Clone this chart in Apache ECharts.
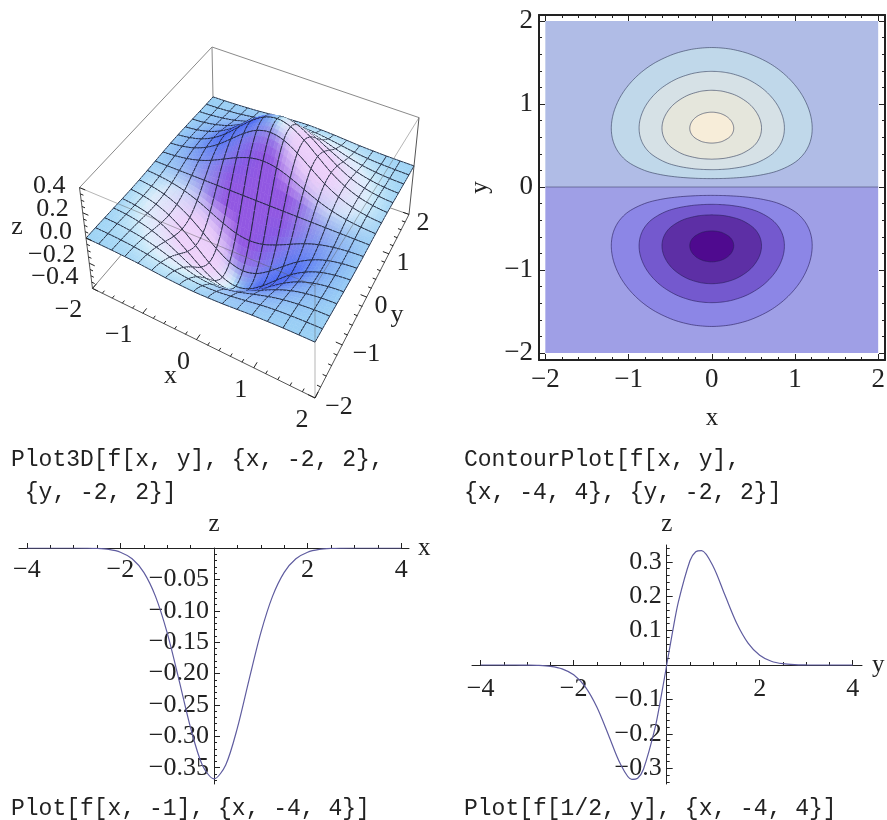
<!DOCTYPE html>
<html><head><meta charset="utf-8">
<style>html,body{margin:0;padding:0;background:#fff}#c{width:887px;height:820px}</style>
<script src="https://cdn.jsdelivr.net/npm/echarts@6/dist/echarts.min.js"></script>
</head><body><div id="c"></div>
<script>
// ---------- data ----------
const sliceX = [-4,-3.75,-3.5,-3.25,-3,-2.75,-2.5,-2.25,-2,-1.75,-1.5,-1.25,-1,-0.75,-0.5,-0.25,0,0.25,0.5,0.75,1,1.25,1.5,1.75,2,2.25,2.5,2.75,3,3.25,3.5,3.75,4];
const sliceXZ = [0,0,0,0,0,-0.0002,-0.0007,-0.0023,-0.0067,-0.0172,-0.0388,-0.0771,-0.1353,-0.2096,-0.2865,-0.3456,-0.3679,-0.3456,-0.2865,-0.2096,-0.1353,-0.0771,-0.0388,-0.0172,-0.0067,-0.0023,-0.0007,-0.0002,0,0,0,0,0];
const sliceY = [-4,-3.75,-3.5,-3.25,-3,-2.75,-2.5,-2.25,-2,-1.75,-1.5,-1.25,-1,-0.75,-0.625,-0.5,-0.25,-0.125,0,0.125,0.25,0.5,0.625,0.75,1,1.25,1.5,1.75,2,2.25,2.5,2.75,3,3.25,3.5,3.75,4];
const sliceYZ = [0,0,0,0,-0.0003,-0.0011,-0.0038,-0.0111,-0.0285,-0.0638,-0.1231,-0.2041,-0.2865,-0.3328,-0.3293,-0.3033,-0.1829,-0.0958,0,0.0958,0.1829,0.3033,0.3293,0.3328,0.2865,0.2041,0.1231,0.0638,0.0285,0.0111,0.0038,0.0011,0.0003,0,0,0,0];

// contour outlines: [y, half width in x]
const contour1 = [[0.101,0],[0.102,0.097],[0.105,0.194],[0.12,0.41],[0.15,0.619],[0.2,0.808],[0.3,1.004],[0.4,1.107],[0.5,1.166],[0.6,1.197],[0.7,1.207],[0.8,1.2],[0.9,1.178],[1,1.141],[1.1,1.09],[1.2,1.022],[1.3,0.935],[1.4,0.824],[1.5,0.677],[1.6,0.461],[1.65,0.284],[1.67,0.163],[1.68,0]];
const contour2 = [[0.209,0],[0.21,0.068],[0.215,0.162],[0.22,0.217],[0.25,0.401],[0.3,0.562],[0.4,0.73],[0.5,0.816],[0.6,0.859],[0.7,0.873],[0.8,0.864],[0.9,0.833],[1,0.781],[1.1,0.703],[1.2,0.593],[1.3,0.427],[1.36,0.26],[1.38,0.165],[1.39,0.081],[1.393,0]];
const contour3 = [[0.335,0],[0.336,0.02],[0.34,0.098],[0.35,0.178],[0.4,0.357],[0.5,0.511],[0.6,0.577],[0.7,0.598],[0.8,0.584],[0.9,0.537],[1,0.452],[1.1,0.299],[1.15,0.146],[1.16,0.082],[1.165,0]];
const contour4 = [[0.529,0],[0.535,0.068],[0.54,0.092],[0.55,0.127],[0.6,0.213],[0.65,0.251],[0.7,0.264],[0.75,0.257],[0.8,0.231],[0.85,0.178],[0.88,0.119],[0.89,0.088],[0.9,0.03],[0.901,0]];
const contourList = [contour1, contour2, contour3, contour4];

// surface heights: rows y = -2 .. 2, columns x = -2 .. 2, step 1/4
const surfaceGrid = [-2,-1.75,-1.5,-1.25,-1,-0.75,-0.5,-0.25,0,0.25,0.5,0.75,1,1.25,1.5,1.75,2];
const surfaceZ = [
[-.001,-.002,-.004,-.008,-.013,-.021,-.029,-.034,-.037,-.034,-.029,-.021,-.013,-.008,-.004,-.002,-.001],
[-.001,-.004,-.009,-.017,-.030,-.047,-.064,-.077,-.082,-.077,-.064,-.047,-.030,-.017,-.009,-.004,-.001],
[-.003,-.007,-.017,-.033,-.058,-.090,-.123,-.149,-.158,-.149,-.123,-.090,-.058,-.033,-.017,-.007,-.003],
[-.005,-.012,-.028,-.055,-.096,-.149,-.204,-.246,-.262,-.246,-.204,-.149,-.096,-.055,-.028,-.012,-.005],
[-.007,-.017,-.039,-.077,-.135,-.210,-.287,-.346,-.368,-.346,-.287,-.210,-.135,-.077,-.039,-.017,-.007],
[-.008,-.020,-.045,-.090,-.157,-.244,-.333,-.401,-.427,-.401,-.333,-.244,-.157,-.090,-.045,-.020,-.008],
[-.007,-.018,-.041,-.082,-.143,-.222,-.303,-.366,-.389,-.366,-.303,-.222,-.143,-.082,-.041,-.018,-.007],
[-.004,-.011,-.025,-.049,-.086,-.134,-.183,-.221,-.235,-.221,-.183,-.134,-.086,-.049,-.025,-.011,-.004],
[0,0,0,0,0,0,0,0,0,0,0,0,0,0,0,0,0],
[.004,.011,.025,.049,.086,.134,.183,.221,.235,.221,.183,.134,.086,.049,.025,.011,.004],
[.007,.018,.041,.082,.143,.222,.303,.366,.389,.366,.303,.222,.143,.082,.041,.018,.007],
[.008,.020,.045,.090,.157,.244,.333,.401,.427,.401,.333,.244,.157,.090,.045,.020,.008],
[.007,.017,.039,.077,.135,.210,.287,.346,.368,.346,.287,.210,.135,.077,.039,.017,.007],
[.005,.012,.028,.055,.096,.149,.204,.246,.262,.246,.204,.149,.096,.055,.028,.012,.005],
[.003,.007,.017,.033,.058,.090,.123,.149,.158,.149,.123,.090,.058,.033,.017,.007,.003],
[.001,.004,.009,.017,.030,.047,.064,.077,.082,.077,.064,.047,.030,.017,.009,.004,.001],
[.001,.002,.004,.008,.013,.021,.029,.034,.037,.034,.029,.021,.013,.008,.004,.002,.001]];

// tick values
const ticks3DX = [-2,-1,0,1,2];
const ticks3DY = [-2,-1,0,1,2];
const ticks3DZ = [0.4,0.2,0,-0.2,-0.4];
const contourMajor = [-2,-1,0,1,2];
const contourMinor = [-2,-1.8,-1.6,-1.4,-1.2,-1,-0.8,-0.6,-0.4,-0.2,0,0.2,0.4,0.6,0.8,1,1.2,1.4,1.6,1.8,2];
const sliceMajorX = [-4,-2,2,4];
const sliceMinorX = [-4,-3.5,-3,-2.5,-2,-1.5,-1,-0.5,0.5,1,1.5,2,2.5,3,3.5,4];
const leftMajorZ = [-0.05,-0.1,-0.15,-0.2,-0.25,-0.3,-0.35];
const leftMinorZ = [-0.01,-0.02,-0.03,-0.04,-0.05,-0.06,-0.07,-0.08,-0.09,-0.1,-0.11,-0.12,-0.13,-0.14,-0.15,-0.16,-0.17,-0.18,-0.19,-0.2,-0.21,-0.22,-0.23,-0.24,-0.25,-0.26,-0.27,-0.28,-0.29,-0.3,-0.31,-0.32,-0.33,-0.34,-0.35,-0.36,-0.37];
const rightMajorZ = [-0.3,-0.2,-0.1,0.1,0.2,0.3];
const rightMinorZ = [-0.34,-0.32,-0.3,-0.28,-0.26,-0.24,-0.22,-0.2,-0.18,-0.16,-0.14,-0.12,-0.1,-0.08,-0.06,-0.04,-0.02,0.02,0.04,0.06,0.08,0.1,0.12,0.14,0.16,0.18,0.2,0.22,0.24,0.26,0.28,0.3,0.32,0.34];

const captions = [
 ['Plot3D[f[x, y], {x, -2, 2},',11,448],[' {y, -2, 2}]',11,481],
 ['ContourPlot[f[x, y],',464,448],['{x, -4, 4}, {y, -2, 2}]',464,481],
 ['Plot[f[x, -1], {x, -4, 4}]',11,797],['Plot[f[1/2, y], {x, -4, 4}]',464,797]];

// ---------- styling ----------
const SERIF = '"Liberation Serif","Times New Roman",serif';
const INK = '#222';
const fmt = d => v => Number(v).toFixed(d).replace('-', '\u2212');
const clamp01 = v => Math.max(0, Math.min(1, v));
const mix = (a, b, t) => a.map((c, i) => c + (b[i] - c) * t);
const rgb = c => 'rgb(' + c.map(Math.round).join(',') + ')';

function axis(dim, grid, pos, range, o) {
  o = o || {};
  return {
    type: 'value', gridIndex: grid, position: pos, min: range[0], max: range[1], offset: o.offset || 0,
    splitLine: {show: false}, silent: true,
    axisLine: {show: o.line !== false, onZero: false, lineStyle: {color: o.lineColor || INK, width: o.lineWidth || 1}},
    axisTick: {show: true, inside: true, length: o.len || 3, customValues: o.ticks, lineStyle: {color: INK, width: 1}},
    axisLabel: o.labels ? {show: true, customValues: o.labels, formatter: o.fmt, margin: o.margin, fontFamily: SERIF, fontSize: o.size || 26, color: '#222'} : {show: false},
    name: o.name, nameLocation: o.nameLoc, nameGap: o.nameGap, nameRotate: o.nameRotate,
    nameTextStyle: {fontFamily: SERIF, fontSize: 25, color: '#222'}
  };
}

// ---------- contour plot ----------
const cRangeX = [-2.076, 2.082], cRangeY = [-2.084, 2.072];
const outline = (c, sign) => c.map(p => [p[1], sign * p[0]]).concat(c.slice(1, -1).reverse().map(p => [-p[1], sign * p[0]]));
// closed centripetal Catmull-Rom: a drawing smoother over the read outline points
function smoothClosed(P, steps) {
  const n = P.length, out = [];
  const at = i => P[(i + n) % n];
  const tj = (t, a, b) => t + Math.pow(Math.hypot(b[0] - a[0], b[1] - a[1]), 0.5);
  for (let i = 0; i < n; i++) {
    const p0 = at(i - 1), p1 = at(i), p2 = at(i + 1), p3 = at(i + 2);
    const t0 = 0, t1 = tj(t0, p0, p1), t2 = tj(t1, p1, p2), t3 = tj(t2, p2, p3);
    const L = (a, b, ta, tb, t) => [0, 1].map(k => a[k] * (tb - t) / (tb - ta) + b[k] * (t - ta) / (tb - ta));
    for (let s = 0; s < steps; s++) {
      const t = t1 + (t2 - t1) * s / steps;
      const A1 = L(p0, p1, t0, t1, t), A2 = L(p1, p2, t1, t2, t), A3 = L(p2, p3, t2, t3, t);
      const B1 = L(A1, A2, t0, t2, t), B2 = L(A2, A3, t1, t3, t);
      out.push(L(B1, B2, t1, t2, t));
    }
  }
  return out;
}
const upperFill = ['#C0D8EA', '#D6E1E6', '#E5E6DC', '#F7EDD9'];
const lowerFill = ['#8C86E6', '#7459CE', '#5D2FA5', '#4F0A8F'];
const contourShapes = [
  {pts: [[-2, 2], [2, 2], [2, 0], [-2, 0]], fill: '#B0BCE6', stroke: 'none'},
  {pts: [[-2, 0], [2, 0], [2, -2], [-2, -2]], fill: '#9F9FE6', stroke: 'none'},
  {pts: [[-2, 0], [2, 0]], line: true, stroke: 'rgba(60,60,100,0.55)'}
];
contourList.forEach((c, i) => {
  contourShapes.push({pts: smoothClosed(outline(c, 1), 6), fill: upperFill[i], stroke: 'rgba(50,60,90,0.6)'});
  contourShapes.push({pts: smoothClosed(outline(c, -1), 6), fill: lowerFill[i], stroke: 'rgba(40,30,90,0.6)'});
});

// ---------- 3D view: corners of the z = 0 plane and vertical edges ----------
const quad = [[86, 238], [315, 342], [414, 166], [213, 97]];
const lift = [[-16.25, -126], [0, -140], [12.5, -121], [-2.5, -125]];
const H = (function () {
  const [p0, p1, p2, p3] = quad;
  const dx1 = p1[0] - p2[0], dx2 = p3[0] - p2[0], sx = p0[0] - p1[0] + p2[0] - p3[0];
  const dy1 = p1[1] - p2[1], dy2 = p3[1] - p2[1], sy = p0[1] - p1[1] + p2[1] - p3[1];
  const den = dx1 * dy2 - dx2 * dy1;
  const g = (sx * dy2 - dx2 * sy) / den, h = (dx1 * sy - sx * dy1) / den;
  return {a: p1[0] - p0[0] + g * p1[0], b: p3[0] - p0[0] + h * p3[0], c: p0[0],
          d: p1[1] - p0[1] + g * p1[1], e: p3[1] - p0[1] + h * p3[1], f: p0[1], g, h};
})();
function project(x, y, z) {
  const u = (x + 2) / 4, v = (y + 2) / 4, w = H.g * u + H.h * v + 1;
  const bl = k => (1 - u) * (1 - v) * lift[0][k] + u * (1 - v) * lift[1][k] + u * v * lift[2][k] + (1 - u) * v * lift[3][k];
  return [(H.a * u + H.b * v + H.c) / w + z * bl(0), (H.d * u + H.e * v + H.f) / w + z * bl(1)];
}
// smooth reading of the height table for drawing (like a line's smooth option)
const cr = (a, b, c, d, t) => 0.5 * (2 * b + (c - a) * t + (2 * a - 5 * b + 4 * c - d) * t * t + (3 * b - a - 3 * c + d) * t * t * t);
function heightAt(x, y) {
  const last = surfaceGrid.length - 1, cl = i => Math.max(0, Math.min(last, i));
  const fx = (x + 2) / 0.25, fy = (y + 2) / 0.25;
  const i = Math.min(last - 1, Math.floor(fx)), j = Math.min(last - 1, Math.floor(fy));
  const row = r => cr(surfaceZ[cl(r)][cl(i - 1)], surfaceZ[cl(r)][cl(i)], surfaceZ[cl(r)][cl(i + 1)], surfaceZ[cl(r)][cl(i + 2)], fx - i);
  return cr(row(j - 1), row(j), row(j + 1), row(j + 2), fy - j);
}
function shade(x, y) {
  const h = 0.04;
  const zx = (heightAt(Math.min(2, x + h), y) - heightAt(Math.max(-2, x - h), y)) / (2 * h);
  const zy = (heightAt(x, Math.min(2, y + h)) - heightAt(x, Math.max(-2, y - h))) / (2 * h);
  let c = [156, 210, 245];
  if (zy > 0) c = mix(c, [146, 88, 226], Math.pow(clamp01(zy / 0.75), 0.9));
  else c = mix(c, [225, 245, 250], clamp01(-zy / 0.45) * 0.55);
  const a = -zx / 0.3;
  const wall = clamp01(zy / 0.5);
  if (a > 0) {
    c = mix(c, [232, 248, 252], clamp01(a / 0.35) * 0.8 * (1 - wall));
    c = mix(c, [240, 205, 250], clamp01((a - 0.25) / 0.75) * 0.88);
  } else c = mix(c, [72, 98, 242], clamp01(-a) * 0.92 * (1 - 0.6 * wall));
  return rgb(c);
}
const SUB = 4, STEPS = (surfaceGrid.length - 1) * SUB, DS = 4 / STEPS;
const cells = [];
for (let b = STEPS - 1; b >= 0; b--) for (let a = 0; a < STEPS; a++) cells.push([a, b]);
const vertex = (api, a, b) => {
  const x = -2 + a * DS, y = -2 + b * DS;
  return api.coord(project(x, y, heightAt(x, y)));
};
const MESH = {stroke: '#1d2438', lineWidth: 0.9};
function renderCell(p, api) {
  const a = cells[p.dataIndex][0], b = cells[p.dataIndex][1];
  const A = vertex(api, a, b), B = vertex(api, a + 1, b), C = vertex(api, a + 1, b + 1), D = vertex(api, a, b + 1);
  const fill = shade(-2 + (a + .5) * DS, -2 + (b + .5) * DS);
  const kids = [{type: 'polygon', silent: true, shape: {points: [A, B, C, D]}, style: {fill, stroke: fill, lineWidth: 0.6}}];
  const seg = (q, r) => kids.push({type: 'line', silent: true, shape: {x1: q[0], y1: q[1], x2: r[0], y2: r[1]}, style: MESH});
  if (b % SUB === 0) seg(A, B);
  if ((b + 1) % SUB === 0) seg(D, C);
  if (a % SUB === 0) seg(A, D);
  if ((a + 1) % SUB === 0) seg(B, C);
  return {type: 'group', silent: true, children: kids};
}

const backEdges = [[[-2,-2,.4],[-2,2,.4]],[[-2,2,.4],[2,2,.4]],[[-2,2,.4],[-2,2,-.4]],[[-2,2,-.4],[2,2,-.4]],[[-2,-2,-.4],[-2,2,-.4]]];
const sideEdges = [[[-2,-2,.4],[-2,-2,-.4]],[[2,2,.4],[2,2,-.4]],[[-2,-2,-.4],[2,-2,-.4]],[[2,-2,-.4],[2,2,-.4]]];
const frontEdges = [[[-2,-2,.4],[2,-2,.4]],[[2,-2,.4],[2,2,.4]],[[2,-2,.4],[2,-2,-.4]]];

const line3 = (api, a, b, stroke, w) => ({
  type: 'line', silent: true,
  shape: {x1: api.coord(a)[0], y1: api.coord(a)[1], x2: api.coord(b)[0], y2: api.coord(b)[1]},
  style: {stroke, lineWidth: w || 1}
});
const text3 = (api, pt, dx, dy, str, align) => {
  const p = api.coord(pt);
  return {type: 'text', silent: true, style: {x: p[0] + dx, y: p[1] + dy, text: str, fill: '#222', font: '26px ' + SERIF, align: align || 'center', verticalAlign: 'middle'}};
};
function edgeSeries(edges, stroke) {
  return {type: 'custom', coordinateSystem: 'cartesian2d', xAxisIndex: 0, yAxisIndex: 0, silent: true, clip: false,
    data: edges.map((e, k) => [k, 0]), encode: {x: 0, y: 1},
    renderItem: (p, api) => line3(api, project.apply(null, edges[p.dataIndex][0]), project.apply(null, edges[p.dataIndex][1]), stroke)};
}
const minorFrom = (a, b, s) => { const r = []; for (let k = 0, n = Math.round((b - a) / s); k <= n; k++) r.push(a + k * s); return r; };
const tick3D = [];
minorFrom(-2, 2, 0.2).forEach(v => {
  const big = Math.abs(v - Math.round(v)) < 1e-6 ? 0.11 : 0.06;
  tick3D.push([[v, -2, -.4], [v, -2 + big, -.4]]);
  tick3D.push([[2, v, -.4], [2 - big, v, -.4]]);
});
minorFrom(-0.4, 0.4, 0.05).forEach(v => {
  const big = Math.abs(v * 5 - Math.round(v * 5)) < 1e-6 ? 0.11 : 0.06;
  tick3D.push([[-2, -2, v], [-2 + big, -2, v]]);
});
const labels3D = [];
ticks3DX.forEach(v => labels3D.push({at: [v, -2, -.4], dx: v < 0 ? -24 : -13, dy: 22, s: fmt(0)(v)}));
ticks3DY.forEach(v => labels3D.push({at: [2, v, -.4], dx: v < 0 ? 24 : 14, dy: 9, s: fmt(0)(v)}));
ticks3DZ.forEach(v => labels3D.push({at: [-2, -2, v], dx: -14, dy: -6 + 12.5 * v, s: fmt(1)(v), align: 'right'}));
labels3D.push({at: [0, -2, -.4], dx: -26, dy: 36, s: 'x'});
labels3D.push({at: [2, 0, -.4], dx: 30, dy: 18, s: 'y'});
labels3D.push({at: [-2, -2, 0], dx: -69, dy: -11, s: 'z'});

// ---------- slices ----------
const leftBox = {left: 19, top: 548, width: 390, height: 236};
const rightBox = {left: 472, top: 545, width: 390, height: 239};
const leftRangeX = [-4.167, 4.167], leftRangeZ = [-0.376, 0];
const rightRangeX = [-4.187, 4.2], rightRangeZ = [-0.346, 0.349];
const zeroShift = (range, size) => -size * (0 - range[0]) / (range[1] - range[0]);
const leftXShift = zeroShift(leftRangeZ, leftBox.height), leftYShift = zeroShift(leftRangeX, leftBox.width);
const rightXShift = zeroShift(rightRangeZ, rightBox.height), rightYShift = zeroShift(rightRangeX, rightBox.width);
const zip = (a, b) => a.map((v, i) => [v, b[i]]);
const curveLine = {type: 'line', showSymbol: false, smooth: 0.3, silent: true, lineStyle: {color: '#5f5c9f', width: 1.2}};

const option = {
  animation: false,
  backgroundColor: '#fff',
  title: captions.map(c => ({text: c[0], left: c[1], top: c[2], padding: 0,
    textStyle: {fontFamily: '"Liberation Mono",monospace', fontSize: 23, fontWeight: 'normal', color: '#222'}})),
  grid: [
    {left: 0, top: 0, width: 887, height: 820, outerBoundsMode: 'none'},
    {left: 539, top: 15, width: 346, height: 345, outerBoundsMode: 'none'},
    Object.assign({outerBoundsMode: 'none'}, leftBox),
    Object.assign({outerBoundsMode: 'none'}, rightBox)
  ],
  xAxis: [
    {type: 'value', gridIndex: 0, min: 0, max: 887, show: false},
    axis('x', 1, 'bottom', cRangeX, {ticks: contourMajor, len: 6, labels: contourMajor, fmt: fmt(0), margin: 6, size: 27, lineWidth: 2, name: 'x', nameLoc: 'middle', nameGap: 46}),
    axis('x', 1, 'bottom', cRangeX, {ticks: contourMinor, len: 3, line: false}),
    axis('x', 1, 'top', cRangeX, {ticks: contourMajor, len: 6, lineWidth: 2}),
    axis('x', 1, 'top', cRangeX, {ticks: contourMinor, len: 3, line: false}),
    axis('x', 2, 'bottom', leftRangeX, {offset: leftXShift, ticks: sliceMajorX, len: 5, labels: sliceMajorX, fmt: fmt(0), margin: 9, name: 'x', nameLoc: 'end', nameGap: 9}),
    axis('x', 2, 'bottom', leftRangeX, {offset: leftXShift, ticks: sliceMinorX, len: 3, line: false}),
    axis('x', 3, 'bottom', rightRangeX, {offset: rightXShift, ticks: sliceMajorX, len: 5, labels: sliceMajorX, fmt: fmt(0), margin: 11, name: 'y', nameLoc: 'end', nameGap: 10}),
    axis('x', 3, 'bottom', rightRangeX, {offset: rightXShift, ticks: sliceMinorX, len: 3, line: false})
  ],
  yAxis: [
    {type: 'value', gridIndex: 0, min: 0, max: 820, inverse: true, show: false},
    axis('y', 1, 'left', cRangeY, {ticks: contourMajor, len: 6, labels: contourMajor, fmt: fmt(0), margin: 6, size: 27, lineWidth: 2, name: 'y', nameLoc: 'middle', nameGap: 46, nameRotate: 90}),
    axis('y', 1, 'left', cRangeY, {ticks: contourMinor, len: 3, line: false}),
    axis('y', 1, 'right', cRangeY, {ticks: contourMajor, len: 6, lineWidth: 2}),
    axis('y', 1, 'right', cRangeY, {ticks: contourMinor, len: 3, line: false}),
    axis('y', 2, 'left', leftRangeZ, {offset: leftYShift, ticks: leftMajorZ, len: 6, labels: leftMajorZ, fmt: fmt(2), margin: 5, name: 'z', nameLoc: 'end', nameGap: 11}),
    axis('y', 2, 'left', leftRangeZ, {offset: leftYShift, ticks: leftMinorZ, len: 3, line: false}),
    axis('y', 3, 'left', rightRangeZ, {offset: rightYShift, ticks: rightMajorZ, len: 6, labels: rightMajorZ, fmt: fmt(1), margin: 5, name: 'z', nameLoc: 'end', nameGap: 8}),
    axis('y', 3, 'left', rightRangeZ, {offset: rightYShift, ticks: rightMinorZ, len: 3, line: false})
  ],
  series: [
    edgeSeries(backEdges, '#8a8a8a'),
    {type: 'custom', coordinateSystem: 'cartesian2d', xAxisIndex: 0, yAxisIndex: 0, silent: true, clip: false,
      data: cells, encode: {x: 0, y: 1}, progressive: 0, renderItem: renderCell},
    edgeSeries(sideEdges, '#555'),
    edgeSeries(frontEdges, 'rgba(90,90,90,0.45)'),
    {type: 'custom', coordinateSystem: 'cartesian2d', xAxisIndex: 0, yAxisIndex: 0, silent: true, clip: false,
      data: tick3D.map((t, k) => [k, 0]), encode: {x: 0, y: 1},
      renderItem: (p, api) => line3(api, project.apply(null, tick3D[p.dataIndex][0]), project.apply(null, tick3D[p.dataIndex][1]), '#222')},
    {type: 'custom', coordinateSystem: 'cartesian2d', xAxisIndex: 0, yAxisIndex: 0, silent: true, clip: false,
      data: labels3D.map((t, k) => [k, 0]), encode: {x: 0, y: 1},
      renderItem: function (p, api) {
        const L = labels3D[p.dataIndex];
        return text3(api, project(L.at[0], L.at[1], L.at[2]), L.dx, L.dy, L.s, L.align);
      }},
    {type: 'custom', coordinateSystem: 'cartesian2d', xAxisIndex: 1, yAxisIndex: 1, silent: true, clip: false,
      data: contourShapes.map((t, k) => [k, 0]), encode: {x: 0, y: 1},
      renderItem: function (p, api) {
        const s = contourShapes[p.dataIndex], pts = s.pts.map(q => api.coord(q));
        if (s.line) return {type: 'polyline', silent: true, shape: {points: pts}, style: {fill: 'none', stroke: s.stroke, lineWidth: 1}};
        return {type: 'polygon', silent: true, shape: {points: pts}, style: {fill: s.fill, stroke: s.stroke, lineWidth: 1}};
      }},
    Object.assign({}, curveLine, {xAxisIndex: 5, yAxisIndex: 5, data: zip(sliceX, sliceXZ)}),
    Object.assign({}, curveLine, {xAxisIndex: 7, yAxisIndex: 7, data: zip(sliceY, sliceYZ)})
  ]
};
const chart = echarts.init(document.getElementById('c'), null, {renderer: 'canvas'});
chart.setOption(option);
</script></body></html>
